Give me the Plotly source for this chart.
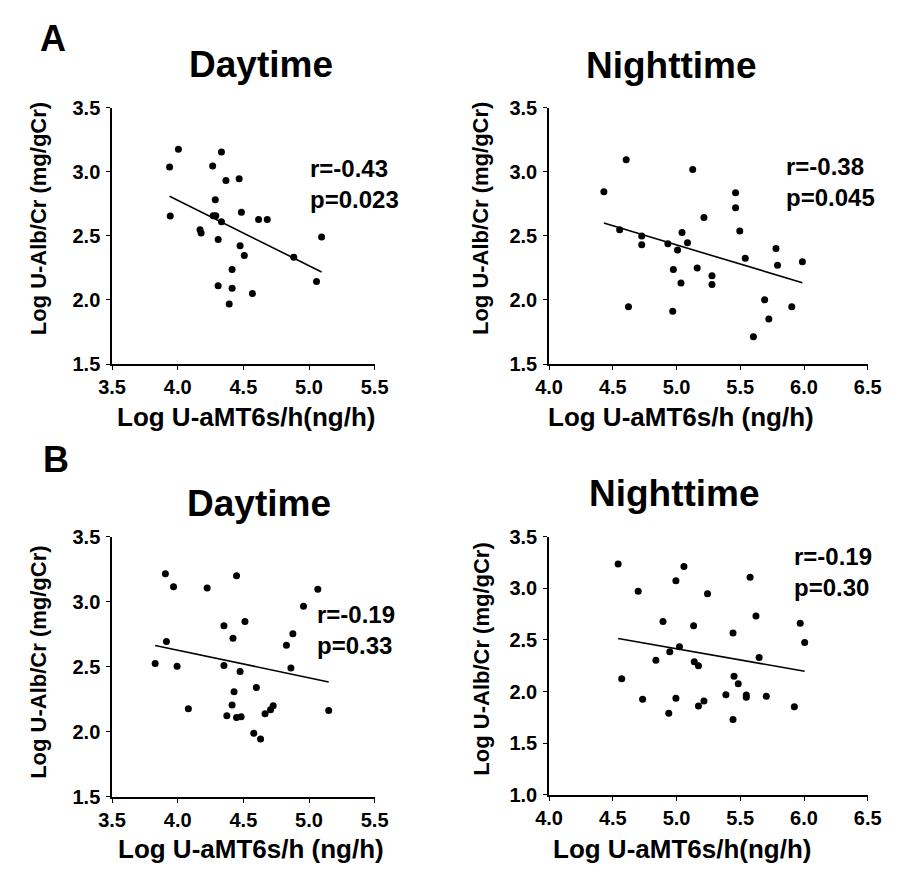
import plotly.graph_objects as go

W, H = 898, 872

# ---------------- data ----------------
# Panel A, Daytime
a_day_x = [3.938, 4.005, 3.943, 4.266, 4.333, 4.367, 4.468, 4.286, 4.270, 4.290,
           4.333, 4.485, 4.616, 4.682, 4.170, 4.178, 4.308, 4.475, 4.507, 4.414,
           4.308, 4.414, 4.569, 4.392, 4.884, 5.096, 5.057]
a_day_y = [3.037, 3.175, 2.656, 3.045, 3.154, 2.933, 2.946, 2.781, 2.657, 2.657,
           2.611, 2.684, 2.628, 2.628, 2.547, 2.522, 2.471, 2.423, 2.346, 2.237,
           2.110, 2.092, 2.051, 1.968, 2.334, 2.491, 2.145]
a_day_fit = (-0.5095, 4.815)  # slope, intercept
a_day_stats = ["r=-0.43", "p=0.023"]

# Panel A, Nighttime
a_night_x = [4.430, 4.605, 4.554, 4.727, 4.727, 4.623, 4.932, 5.008, 5.043, 5.086,
             5.127, 4.975, 5.035, 4.970, 5.162, 5.215, 5.278, 5.278, 5.463, 5.463,
             5.496, 5.539, 5.691, 5.724, 5.603, 5.780, 5.792, 5.904, 5.987]
a_night_y = [2.844, 3.093, 2.547, 2.499, 2.430, 1.947, 2.438, 2.389, 2.527, 2.446,
             3.017, 2.237, 2.133, 1.912, 2.250, 2.644, 2.189, 2.120, 2.837, 2.720,
             2.539, 2.326, 2.001, 1.851, 1.713, 2.402, 2.270, 1.947, 2.298]
a_night_fit = (-0.2987, 3.923)
a_night_stats = ["r=-0.38", "p=0.045"]

# Panel B, Daytime
b_day_x = [3.828, 3.906, 3.968, 3.914, 3.995, 4.081, 4.224, 4.352, 4.448, 4.512,
           4.421, 4.352, 4.475, 4.429, 4.414, 4.374, 4.448, 4.483, 4.599, 4.579,
           4.631, 4.665, 4.707, 4.727, 4.828, 4.877, 4.862, 4.958, 5.067, 5.150]
b_day_y = [2.525, 3.215, 3.115, 2.693, 2.503, 2.178, 3.105, 2.815, 3.200, 2.848,
           2.718, 2.510, 2.463, 2.308, 2.205, 2.123, 2.110, 2.115, 2.340, 1.988,
           1.945, 2.138, 2.170, 2.200, 2.665, 2.753, 2.490, 2.965, 3.095, 2.163]
b_day_fit = (-0.212, 3.475)
b_day_stats = ["r=-0.19", "p=0.33"]

# Panel B, Nighttime
b_night_x = [4.542, 4.570, 4.699, 4.734, 4.838, 4.894, 4.947, 4.939, 4.995, 4.995,
             5.023, 5.058, 5.134, 5.139, 5.172, 5.172, 5.215, 5.243, 5.387, 5.443,
             5.451, 5.484, 5.443, 5.547, 5.547, 5.577, 5.623, 5.648, 5.704, 5.924,
             5.970, 6.005]
b_night_y = [3.236, 2.124, 2.971, 1.926, 2.304, 2.678, 2.385, 1.790, 3.072, 1.935,
             2.433, 3.210, 2.637, 2.288, 2.250, 1.860, 1.910, 2.946, 1.970, 2.568,
             2.149, 2.077, 1.730, 1.967, 1.945, 3.106, 2.732, 2.329, 1.954, 1.853,
             2.662, 2.474]
b_night_fit = (-0.217, 3.500)
b_night_stats = ["r=-0.19", "p=0.30"]

x_ticks_day = [3.5, 4.0, 4.5, 5.0, 5.5]
x_ticks_night = [4.0, 4.5, 5.0, 5.5, 6.0, 6.5]
y_ticks_a = [1.5, 2.0, 2.5, 3.0, 3.5]
y_ticks_b_night = [1.0, 1.5, 2.0, 2.5, 3.0, 3.5]

x_title_a = "Log U-aMT6s/h(ng/h)"
x_title_b = "Log U-aMT6s/h (ng/h)"
y_title = "Log U-Alb/Cr (mg/gCr)"

# ---------------- layout helpers ----------------
PAGE_OFF = 8  # default body margin of the html page

def px(x):
    return (x - PAGE_OFF) / W

def py(y):
    return 1 - (y - PAGE_OFF) / H

FONT = "Liberation Sans, Arial, sans-serif"

panels = [
    dict(x=a_day_x, y=a_day_y, fit=a_day_fit, stats=a_day_stats,
         xd=(101, 372), yd=(99, 362), xr=(3.5, 5.5), yr=(1.5, 3.5),
         xt=x_ticks_day, yt=y_ticks_a, xtitle=x_title_a,
         title="Daytime", title_pos=(255, 55),
         stat_pos=(303, 177),
         xtitle_pos=(240, 416), ytitle_pos=(25, 213)),
    dict(x=a_night_x, y=a_night_y, fit=a_night_fit, stats=a_night_stats,
         xd=(552, 881), yd=(99, 362), xr=(4.0, 6.5), yr=(1.5, 3.5),
         xt=x_ticks_night, yt=y_ticks_a, xtitle=x_title_b,
         title="Nighttime", title_pos=(678, 56),
         stat_pos=(795, 175),
         xtitle_pos=(688, 416), ytitle_pos=(482, 213)),
    dict(x=b_day_x, y=b_day_y, fit=b_day_fit, stats=b_day_stats,
         xd=(101, 372), yd=(539, 806), xr=(3.5, 5.5), yr=(1.5, 3.5),
         xt=x_ticks_day, yt=y_ticks_a, xtitle=x_title_b,
         title="Daytime", title_pos=(253, 505),
         stat_pos=(310, 635),
         xtitle_pos=(244, 859), ytitle_pos=(25, 668)),
    dict(x=b_night_x, y=b_night_y, fit=b_night_fit, stats=b_night_stats,
         xd=(552, 881), yd=(539, 804), xr=(4.0, 6.5), yr=(1.0, 3.5),
         xt=x_ticks_night, yt=y_ticks_b_night, xtitle=x_title_a,
         title="Nighttime", title_pos=(681, 495),
         stat_pos=(803, 575),
         xtitle_pos=(690, 859), ytitle_pos=(482, 665)),
]

fig = go.Figure()
annotations = []
layout_axes = {}

for i, p in enumerate(panels, start=1):
    xa = "x" if i == 1 else f"x{i}"
    ya = "y" if i == 1 else f"y{i}"
    fig.add_trace(go.Scatter(
        x=p["x"], y=p["y"], mode="markers", xaxis=xa, yaxis=ya,
        marker=dict(color="black", size=7), showlegend=False, cliponaxis=False))
    slope, icpt = p["fit"]
    x0, x1 = min(p["x"]), max(p["x"])
    fig.add_trace(go.Scatter(
        x=[x0, x1], y=[slope * x0 + icpt, slope * x1 + icpt], mode="lines",
        xaxis=xa, yaxis=ya, line=dict(color="black", width=1.6), showlegend=False))

    common = dict(showline=True, linecolor="black", linewidth=1.6, ticks="outside",
                  ticklen=4, tickwidth=1.4, tickcolor="black", showgrid=False,
                  zeroline=False, fixedrange=True,
                  tickfont=dict(family=FONT, size=20, color="black", weight="bold"))
    layout_axes["xaxis" if i == 1 else f"xaxis{i}"] = dict(
        common, domain=[px(p["xd"][0]), px(p["xd"][1])], range=list(p["xr"]),
        tickmode="array", tickvals=p["xt"], ticktext=[f"{v:.1f}" for v in p["xt"]],
        anchor=ya, ticklabelstandoff=0)
    layout_axes["yaxis" if i == 1 else f"yaxis{i}"] = dict(
        common, domain=[py(p["yd"][1]), py(p["yd"][0])], range=list(p["yr"]),
        tickmode="array", tickvals=p["yt"], ticktext=[f"{v:.1f}" for v in p["yt"]],
        anchor=xa, ticklabelstandoff=2)

    tx, ty = p["title_pos"]
    annotations.append(dict(text=p["title"], x=px(tx), y=py(ty), xref="paper", yref="paper",
                            showarrow=False, xanchor="center", yanchor="middle",
                            font=dict(family=FONT, size=37, color="black", weight="bold")))
    sx, sy = p["stat_pos"]
    annotations.append(dict(text="<br>".join(p["stats"]), x=px(sx), y=py(sy),
                            xref="paper", yref="paper", showarrow=False,
                            xanchor="left", yanchor="middle", align="left",
                            font=dict(family=FONT, size=24, color="black", weight="bold")))
    ax_, ay_ = p["xtitle_pos"]
    annotations.append(dict(text=p["xtitle"], x=px(ax_), y=py(ay_), xref="paper", yref="paper",
                            showarrow=False, xanchor="center", yanchor="middle",
                            font=dict(family=FONT, size=26, color="black", weight="bold")))
    yx, yy = p["ytitle_pos"]
    annotations.append(dict(text=y_title, x=px(yx), y=py(yy), xref="paper", yref="paper",
                            showarrow=False, xanchor="center", yanchor="middle", textangle=-90,
                            font=dict(family=FONT, size=22, color="black", weight="bold")))

for lab, (lx, ly) in [("A", (40, 28)), ("B", (43, 460))]:
    annotations.append(dict(text=lab, x=px(lx), y=py(ly), xref="paper", yref="paper",
                            showarrow=False, xanchor="center", yanchor="middle",
                            font=dict(family=FONT, size=36, color="black", weight="bold")))

fig.update_layout(
    width=W, height=H, margin=dict(l=0, r=0, t=0, b=0),
    paper_bgcolor="white", plot_bgcolor="white",
    annotations=annotations, **layout_axes)

fig.write_html("out.html")
